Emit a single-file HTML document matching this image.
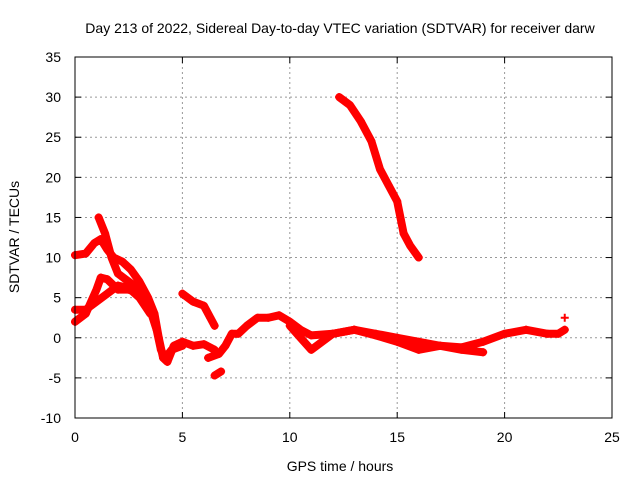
<!DOCTYPE html>
<html><head><meta charset="utf-8"><style>
body{margin:0;background:#fff;}
svg text{font-family:"Liberation Sans",sans-serif;font-size:14px;fill:#000;}
</style></head><body>
<svg id="chart" width="640" height="480">
<text x="340" y="33" text-anchor="middle">Day 213 of 2022, Sidereal Day-to-day VTEC variation (SDTVAR) for receiver darw</text>
<text x="340" y="471" text-anchor="middle">GPS time / hours</text>
<text transform="translate(19,237) rotate(-90)" text-anchor="middle">SDTVAR / TECUs</text>
<g id="grid"></g><g id="ticks"></g><g id="series"></g>
<rect x="75" y="57" width="537" height="361" fill="none" stroke="#000" stroke-width="1"/>
</svg>
<script>
const xTicks=[0,5,10,15,20,25];
const yTicks=[-10,-5,0,5,10,15,20,25,30,35];
const trackAh=[0,0.5,0.9,1.2,1.5,1.8,2.2,2.6,3,3.4,3.7,3.9,4.1,4.3,4.6,5,5.5,6,6.5];
const trackAv=[10.3,10.5,11.8,12.3,11,10,9.5,8.5,7,5,3,0,-2.5,-3,-1,-0.5,-1,-0.8,-1.5];
const trackBh=[1.1,1.4,1.7,2,2.5,3,3.5,3.8,4,4.2,4.5,5];
const trackBv=[15,13,10,8,7,6,3.5,1,-1.5,-2.5,-1.5,-1];
const trackCh=[0,0.5,1,1.2,1.5,2,2.5,3,3.5];
const trackCv=[2,3,6,7.5,7.3,6,6,5.5,4];
const trackDh=[0,0.5,1,1.5,2,2.5,3,3.5];
const trackDv=[3.5,3.5,4.5,5.5,6.5,6.2,5,3];
const trackEh=[5,5.5,6,6.3,6.5];
const trackEv=[5.5,4.5,4,2.5,1.5];
const trackFh=[6.5,6.8];
const trackFv=[-4.7,-4.2];
const trackGh=[6.2,6.7,7,7.3,7.6,8,8.5,9,9.5,10,10.5,11,12,13,14,15,16,17,18,19,20,21,22,22.5,22.8];
const trackGv=[-2.5,-2,-1,0.5,0.5,1.5,2.5,2.5,2.8,2,1,0.3,0.5,1,0.5,0,-0.5,-1,-1.2,-0.5,0.5,1,0.5,0.5,1];
const trackHh=[10,10.5,11,11.5,12,13,14,15,16,17,18,19];
const trackHv=[1.5,0,-1.5,-0.5,0.5,1,0.3,-0.5,-1.5,-1,-1.5,-1.8];
const trackIh=[12.3,12.8,13.3,13.8,14.2,14.6,15,15.3,15.6,16];
const trackIv=[30,29,27,24.5,21,19,17,13,11.5,10];
const trackJh=[22.8];
const trackJv=[2.5];
const tracks=[[trackAh,trackAv],[trackBh,trackBv],[trackCh,trackCv],[trackDh,trackDv],[trackEh,trackEv],[trackFh,trackFv],[trackGh,trackGv],[trackHh,trackHv],[trackIh,trackIv],[trackJh,trackJv]];
const X=h=>75+h*537/25;
const Y=v=>418-(v+10)*361/45;
const NS='http://www.w3.org/2000/svg';
const grid=document.getElementById('grid'),ticks=document.getElementById('ticks'),series=document.getElementById('series');
function mk(tag,attrs,parent){const e=document.createElementNS(NS,tag);for(const k in attrs)e.setAttribute(k,attrs[k]);parent.appendChild(e);return e;}
xTicks.forEach(t=>{
 if(t>0&&t<25){const g=mk('line',{x1:X(t),x2:X(t),y1:57,y2:418,stroke:'#999','stroke-dasharray':'2,3'},grid);
 
 }
 mk('line',{x1:X(t),x2:X(t),y1:418,y2:412,stroke:'#000'},ticks);
 mk('line',{x1:X(t),x2:X(t),y1:57,y2:63,stroke:'#000'},ticks);
 const l=mk('text',{x:X(t),y:442,'text-anchor':'middle'},ticks);l.textContent=t;
 
 
});
yTicks.forEach(t=>{
 if(t>-10&&t<35){const g=mk('line',{x1:75,x2:612,y1:Y(t),y2:Y(t),stroke:'#999','stroke-dasharray':'2,3'},grid);
 
 }
 mk('line',{x1:75,x2:81,y1:Y(t),y2:Y(t),stroke:'#000'},ticks);
 mk('line',{x1:612,x2:606,y1:Y(t),y2:Y(t),stroke:'#000'},ticks);
 const l=mk('text',{x:61,y:Y(t)+5,'text-anchor':'end'},ticks);l.textContent=t;
 
 
});
tracks.forEach(([hs,vs])=>{
 const pts=hs.map((h,i)=>X(h)+','+Y(vs[i])).join(' ');
 const p=mk('polyline',{points:pts,fill:'none',stroke:'#f00','stroke-width':8,'stroke-linejoin':'round','stroke-linecap':'round'},series);
 
 
 hs.forEach((h,i)=>{const x=X(h),y=Y(vs[i]);
  const m=mk('path',{d:`M${x-4},${y}H${x+4}M${x},${y-4}V${y+4}`,stroke:'#f00','stroke-width':2},series);
  
  });
});
</script>
</body></html>
